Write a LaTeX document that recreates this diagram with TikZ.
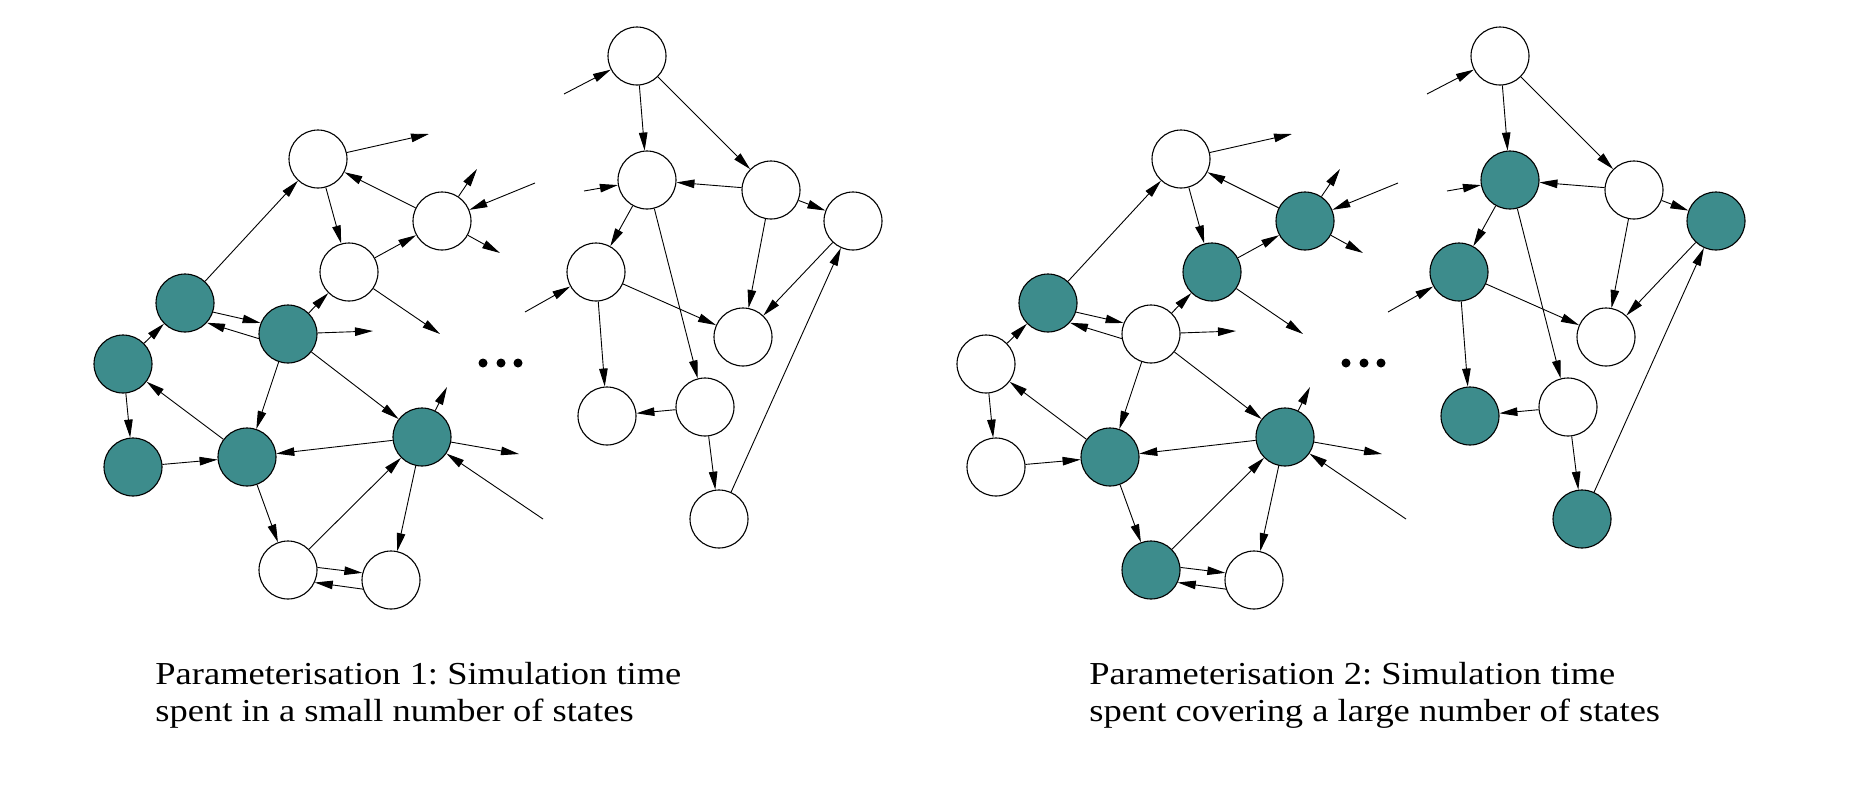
\documentclass[tikz,border=0pt]{standalone}
\usepackage{fontspec}
\setmainfont{Liberation Serif}[FakeStretch=1.14]
\usepackage{tikz}
\usetikzlibrary{arrows.meta}
\definecolor{visited}{RGB}{61,140,140}
\frenchspacing

\tikzset{
  state/.style={circle,draw,line width=1.1pt,minimum size=58pt,inner sep=0pt},
  dot/.style={circle,fill,minimum size=9pt,inner sep=0pt},
  caption/.style={anchor=base west,inner sep=0pt,font=\fontsize{32}{37}\selectfont},
}

\begin{document}
\begin{tikzpicture}[x=1pt,y=-1pt,line width=0.9pt,>={Triangle[length=18pt,width=8.5pt]}]
     \useasboundingbox (0,0) rectangle (1866,788);
     % states: name / x / y / fill left / fill right
     \foreach \n/\x/\y/\fl/\fr in {a/318/159/white/white, b/442/221/white/visited,
         c/349/272/white/visited, d/185/303/visited/visited, e/288/334/visited/white,
         f/123/364/visited/white, g/133/467/visited/white, h/247/457/visited/visited,
         i/422/437/visited/visited, j/288/570/white/visited, k/391/580/white/white,
         p/637/56/white/white, q/647/180/white/visited, r/771/190/white/white,
         s/853/221/white/visited, t/596/272/white/visited, u/743/337/white/white,
         v/607/416/white/visited, w/705/407/white/white, z/719/519/white/visited} {
          \node [state,fill=\fl] (l-\n) at (\x,\y) {};
          \node [state,fill=\fr] (r-\n) at (\x+863,\y) {};
     }
     % loose ends
     \foreach \n/\x/\y in {ao/429/134, bo/477/169, bi/535/183, bp/500/253,
         co/440/334, eo/373/331, io/447/387, ip/519/454, ii/543/519,
         pi/564/94, qi/584/191, ti/525/312} {
          \coordinate (l-\n) at (\x,\y);
          \coordinate (r-\n) at (\x+863,\y);
     }
     % the dots
     \foreach \m/\x in {1/483, 2/501, 3/518} {
          \node [dot] (l-dot\m) at (\x,363) {};
          \node [dot] (r-dot\m) at (\x+863,363) {};
     }
     \foreach \s in {l,r} {
          \foreach \u/\v in {d/a, a/c, b/a, c/b, e/c, f/d, f/g, e/h, e/i, h/f,
              g/h, i/h, h/j, j/i, i/k, p/q, p/r, r/q, q/t, q/w, r/u, r/s, s/u,
              t/u, t/v, w/v, w/z, z/s, a/ao, b/bo, bi/b, b/bp, c/co, e/eo,
              i/io, i/ip, ii/i, pi/p, qi/q, ti/t}
               \draw [->] (\s-\u) -- (\s-\v);
          \draw [->] (\s-d.-18) -- (\s-e.158);
          \draw [->] (\s-e.189) -- (\s-d.-42);
          \draw [->] (\s-j.5) -- (\s-k.166);
          \draw [->] (\s-k.198) -- (\s-j.-25);
     }
     \node [caption] (l-cap1) at (155,684) {Parameterisation 1: Simulation time};
     \node [caption] (l-cap2) at (155,721.5) {spent in a small number of states};
     \node [caption] (r-cap1) at (1089,684) {Parameterisation 2: Simulation time};
     \node [caption] (r-cap2) at (1089,721.5) {spent covering a large number of states};
\end{tikzpicture}
\end{document}
